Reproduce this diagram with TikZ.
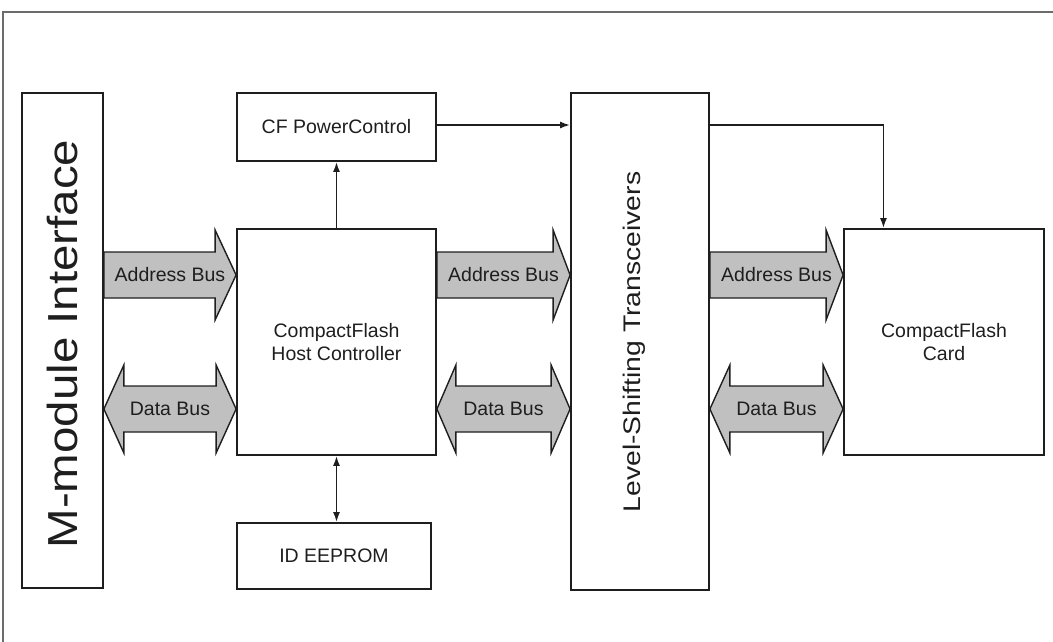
\documentclass[tikz,border=0pt]{standalone}
\usepackage{fontspec}
\setmainfont{Liberation Sans}
\usetikzlibrary{arrows.meta,calc,backgrounds}
\definecolor{busgray}{RGB}{192,192,192}
\definecolor{ink}{RGB}{30,30,30}
\tikzset{
  blk/.style={draw=ink, line width=1.8pt, inner sep=0pt, align=center, text=ink,
              font=\fontsize{19.5}{23}\selectfont},
  bus/.style={draw=ink, line width=1.4pt, fill=busgray, line join=miter},
  buslbl/.style={font=\fontsize{19.5}{23}\selectfont, text=ink, inner sep=0pt},
  biglbl/.style={rotate=90, text=ink, inner sep=0pt},
  sig/.style={draw=ink, line width=1.7pt, -{Latex[length=10pt,width=7pt]}},
  bisig/.style={draw=ink, line width=1.7pt, {Latex[length=10pt,width=7pt]}-{Latex[length=10pt,width=7pt]}},
  framel/.style={draw=gray!85!black, line width=2.5pt}
}
% single-headed bus arrow: from, to, row coordinate, head length
\newcommand{\sbus}[4]{%
  \draw[bus] let \p1=(#1|-#3), \p2=(#2|-#3) in
    (\x1,\y1+23pt) -- (\x2-#4pt,\y1+23pt) -- (\x2-#4pt,\y1+45pt) -- (\x2,\y1)
    -- (\x2-#4pt,\y1-45pt) -- (\x2-#4pt,\y1-23pt) -- (\x1,\y1-23pt) -- cycle;}
% double-headed bus arrow
\newcommand{\dbus}[4]{%
  \draw[bus] let \p1=(#1|-#3), \p2=(#2|-#3) in
    (\x1,\y1) -- (\x1+#4pt,\y1+44pt) -- (\x1+#4pt,\y1+23pt) -- (\x2-#4pt,\y1+23pt)
    -- (\x2-#4pt,\y1+44pt) -- (\x2,\y1) -- (\x2-#4pt,\y1-44pt) -- (\x2-#4pt,\y1-23pt)
    -- (\x1+#4pt,\y1-23pt) -- (\x1+#4pt,\y1-44pt) -- cycle;}
\begin{document}
\begin{tikzpicture}[x=1pt,y=-1pt]
\useasboundingbox (0,0) rectangle (1053,641);
% outer frame (only left and top edges visible)
\draw[framel] (3,660) -- (3,12) -- (1070,12);

% blocks
\node[blk, minimum width=81pt, minimum height=495pt] (mm) at (62.5,340.5) {};
\node[biglbl, font=\fontsize{42}{42}\selectfont] (mmlbl) at (62.5,344) {\scalebox{1.13}[1]{M-module Interface}};
\node[blk, minimum width=199pt, minimum height=68pt] (pc) at (336.5,127) {CF PowerControl};
\node[blk, minimum width=199pt, minimum height=226pt] (hc) at (336.5,342) {CompactFlash\\Host Controller};
\node[blk, minimum width=194pt, minimum height=66pt] (ee) at (334,556) {ID EEPROM};
\node[blk, minimum width=138pt, minimum height=497pt] (ls) at (640,341.5) {};
\node[biglbl, font=\fontsize{24}{24}\selectfont] (lslbl) at (634,342) {\scalebox{1.18}[1]{Level-Shifting Transceivers}};
\node[blk, minimum width=200pt, minimum height=226pt] (cf) at (944,342) {CompactFlash\\Card};

% bus rows
\coordinate (arow) at (0,275);
\coordinate (drow) at (0,409);

\begin{scope}[on background layer]
  \sbus{mm.east}{hc.west}{arow}{21}
  \sbus{hc.east}{ls.west}{arow}{17}
  \sbus{ls.east}{cf.west}{arow}{17}
  \dbus{mm.east}{hc.west}{drow}{20}
  \dbus{hc.east}{ls.west}{drow}{19}
  \dbus{ls.east}{cf.west}{drow}{20}
\end{scope}

% bus labels
\node[buslbl] (ab1) at ($(mm.east|-arow)!0.5!(hc.west|-arow)$) {Address Bus};
\node[buslbl] (ab2) at ($(hc.east|-arow)!0.5!(ls.west|-arow)$) {Address Bus};
\node[buslbl] (ab3) at ($(ls.east|-arow)!0.5!(cf.west|-arow)$) {Address Bus};
\node[buslbl] (db1) at ($(mm.east|-drow)!0.5!(hc.west|-drow)$) {Data Bus};
\node[buslbl] (db2) at ($(hc.east|-drow)!0.5!(ls.west|-drow)$) {Data Bus};
\node[buslbl] (db3) at ($(ls.east|-drow)!0.5!(cf.west|-drow)$) {Data Bus};

% control signals
\coordinate (pwr) at (0,125);
\coordinate (cfin) at ($(cf.north west)!0.2!(cf.north east)$);
\draw[sig] (hc.north) -- (pc.south);
\draw[bisig] (hc.south) -- (hc.south|-ee.north);
\draw[sig] (pc.east|-pwr) -- (ls.west|-pwr);
\draw[sig] (ls.east|-pwr) -| (cfin);
\end{tikzpicture}
\end{document}
